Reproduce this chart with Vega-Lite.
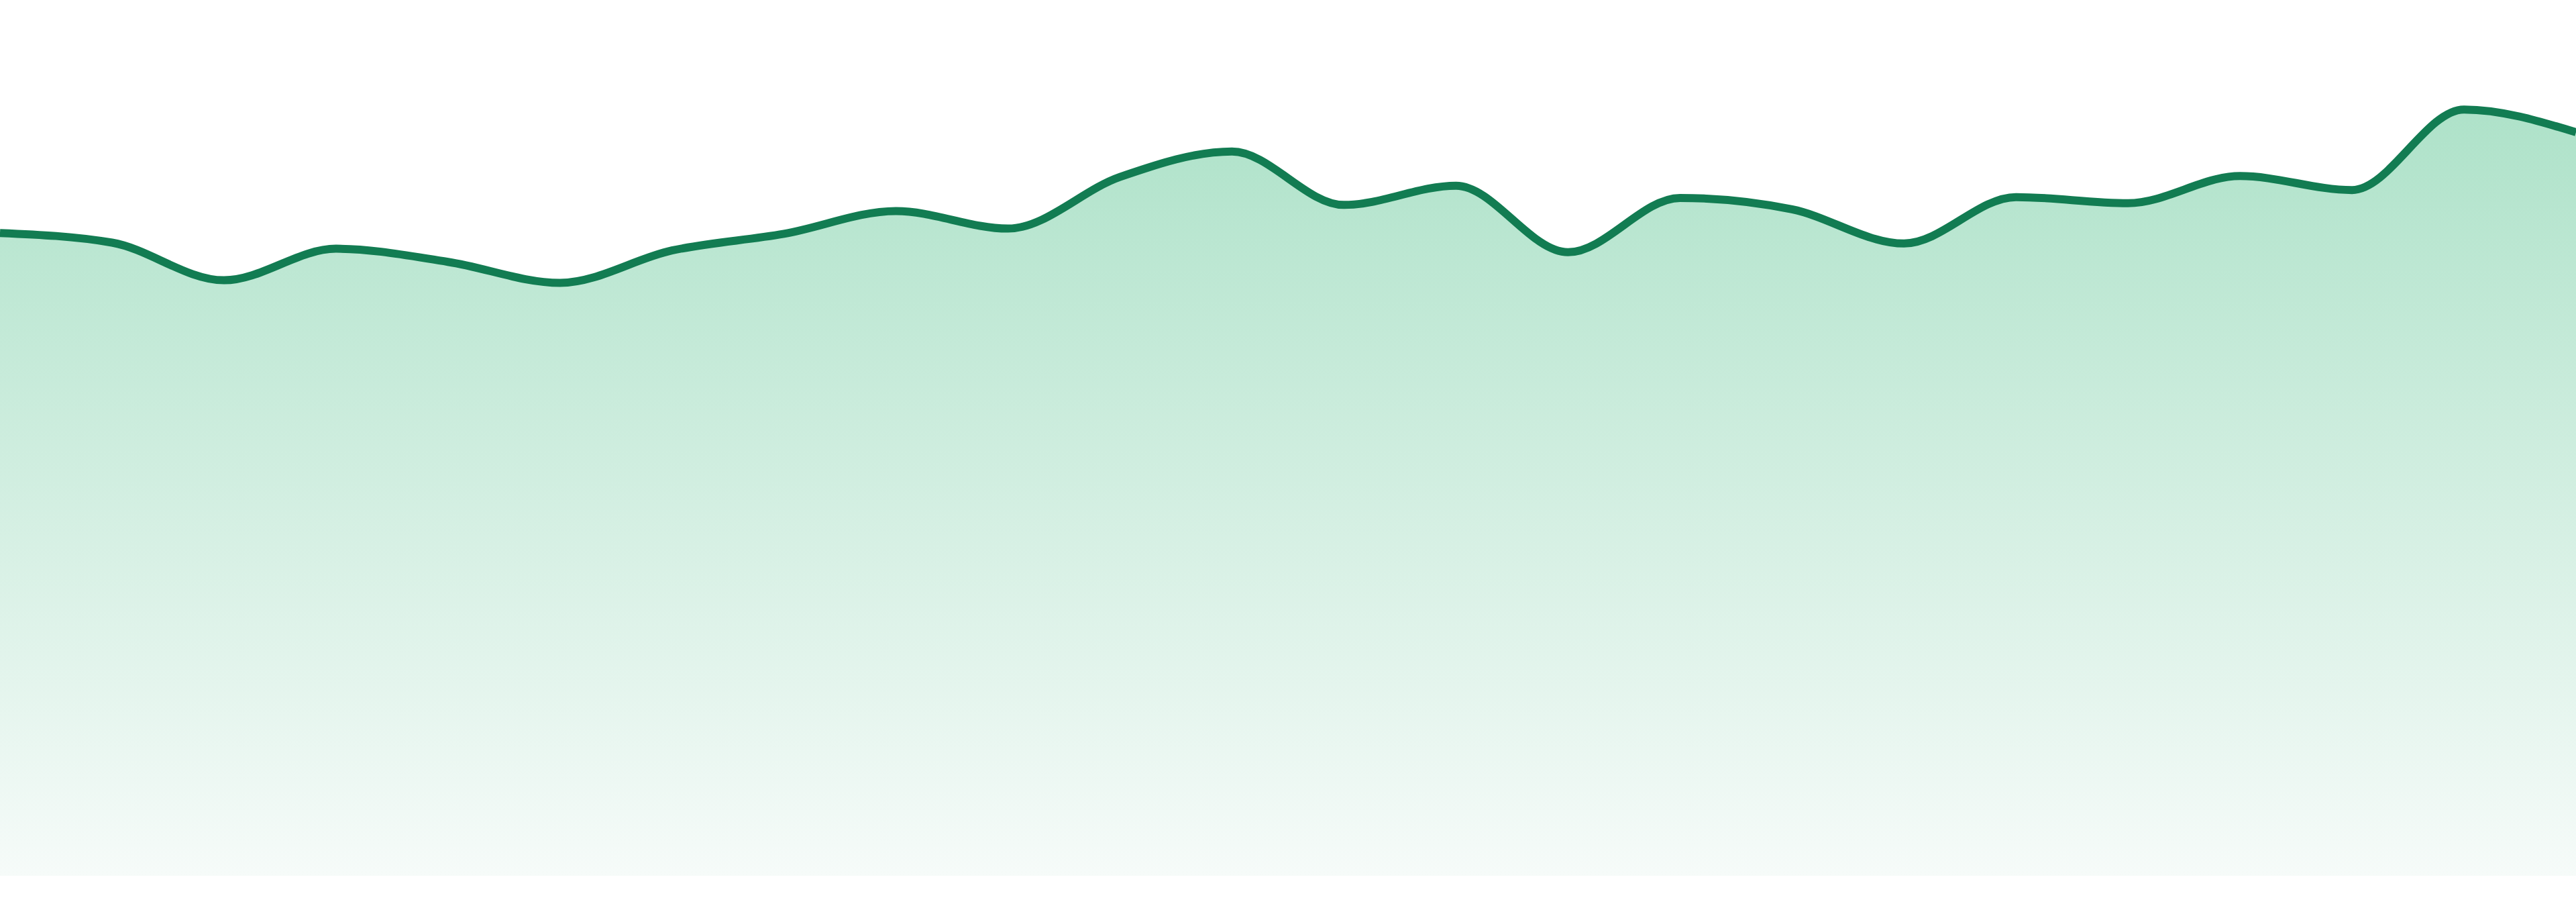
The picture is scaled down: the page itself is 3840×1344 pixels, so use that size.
{
  "$schema": "https://vega.github.io/schema/vega-lite/v6.json",
  "width": 3840,
  "height": 1305,
  "autosize": {"type": "none"},
  "padding": {"left": 0, "right": 0, "top": 0, "bottom": 39},
  "background": "white",
  "config": {"view": {"stroke": null}},
  "data": {
    "values": [
      {"i": 0, "value": 73.4},
      {"i": 1, "value": 72.3},
      {"i": 2, "value": 68.0},
      {"i": 3, "value": 71.6},
      {"i": 4, "value": 70.1},
      {"i": 5, "value": 67.7},
      {"i": 6, "value": 71.4},
      {"i": 7, "value": 73.3},
      {"i": 8, "value": 75.9},
      {"i": 9, "value": 73.9},
      {"i": 10, "value": 79.8},
      {"i": 11, "value": 82.7},
      {"i": 12, "value": 76.6},
      {"i": 13, "value": 78.8},
      {"i": 14, "value": 71.2},
      {"i": 15, "value": 77.4},
      {"i": 16, "value": 76.1},
      {"i": 17, "value": 72.2},
      {"i": 18, "value": 77.5},
      {"i": 19, "value": 76.8},
      {"i": 20, "value": 79.9},
      {"i": 21, "value": 78.3},
      {"i": 22, "value": 87.5},
      {"i": 23, "value": 84.9}
    ]
  },
  "encoding": {
    "x": {
      "field": "i",
      "type": "quantitative",
      "scale": {"domain": [0, 23], "nice": false, "zero": false},
      "axis": null
    },
    "y": {
      "field": "value",
      "type": "quantitative",
      "scale": {"domain": [0, 100], "nice": false},
      "axis": null
    }
  },
  "layer": [
    {
      "mark": {
        "type": "area",
        "interpolate": "monotone",
        "fill": {
          "gradient": "linear",
          "x1": 1,
          "y1": 1,
          "x2": 1,
          "y2": 0,
          "stops": [
            {"offset": 0, "color": "#f6fbf9"},
            {"offset": 1, "color": "#aee2c9"}
          ]
        }
      }
    },
    {
      "mark": {
        "type": "line",
        "interpolate": "monotone",
        "stroke": "#127c52",
        "strokeWidth": 12
      }
    }
  ]
}
